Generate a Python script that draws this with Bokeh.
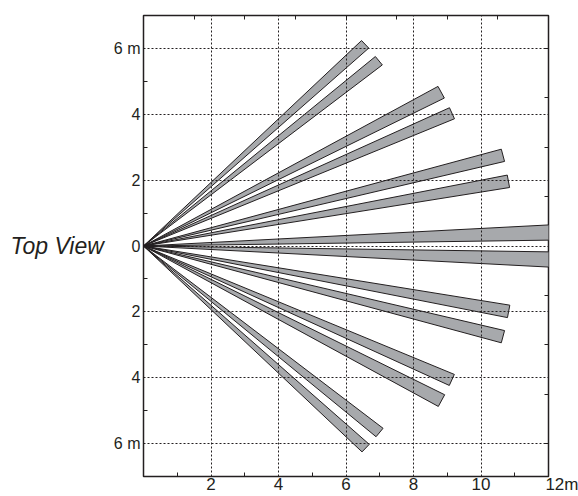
import math
from bokeh.plotting import figure
from bokeh.models import Range1d, FixedTicker, LinearAxis, ColumnDataSource
from bokeh.embed import file_html
from bokeh.resources import INLINE

# ---- data ----
beam_angle_deg = [43.0, 38.9, 27.9, 23.8, 14.5, 10.3, 1.95,
                  -1.95, -10.4, -14.5, -24.0, -28.0, -39.0, -43.0]
beam_length_m = [8.98, 8.96, 9.98, 9.99, 11.0, 10.99, 13.0,
                 13.0, 11.0, 11.0, 10.0, 10.0, 9.0, 9.0]
beam_halfwidth_deg = [1.0, 1.05, 1.15, 1.05, 1.0, 1.0, 1.1,
                      1.1, 1.0, 1.0, 1.05, 1.15, 1.05, 1.0]

x_label_ticks = [2, 4, 6, 8, 10, 12]
x_label_text = {2: "2", 4: "4", 6: "6", 8: "8", 10: "10",
                12: "\u00a0" * 6 + "12m"}
x_minor_ticks = [1, 3, 5, 7, 9, 11]
y_label_ticks = [-6, -4, -2, 0, 2, 4, 6]
y_label_text = {-6: "6 m", -4: "4", -2: "2", 0: "0", 2: "2", 4: "4", 6: "6 m"}
y_minor_ticks = [-5, -3, -1, 1, 3, 5]
top_ticks = [1.5, 3, 4.5, 6, 7.5, 9, 10.5]
right_ticks = [-6, -4.5, -3, -1.5, 1.5, 3, 4.5, 6]
side_title = "Top View"

INK = "#231f20"
FONT = "Liberation Sans"

# ---- beam polygons ----
xs, ys = [], []
for a, L, h in zip(beam_angle_deg, beam_length_m, beam_halfwidth_deg):
    t = math.radians(a)
    w = L * math.tan(math.radians(h))
    cx, cy = L * math.cos(t), L * math.sin(t)
    nx, ny = -math.sin(t), math.cos(t)
    xs.append([0.0, cx + w * nx, cx - w * nx])
    ys.append([0.0, cy + w * ny, cy - w * ny])
src = ColumnDataSource(dict(xs=xs, ys=ys))

p = figure(width=578, height=496, x_range=Range1d(0, 12), y_range=Range1d(-7, 7),
           output_backend="svg", toolbar_location=None,
           min_border_left=143, min_border_right=30, min_border_top=15,
           min_border_bottom=16)
p.background_fill_color = "white"
p.border_fill_color = "white"
p.outline_line_color = INK
p.outline_line_width = 1.5

p.patches("xs", "ys", source=src, fill_color="#a7a9ac", line_color=INK, line_width=1)

# bottom axis
xa = p.xaxis[0]
xa.ticker = FixedTicker(ticks=x_label_ticks, minor_ticks=x_minor_ticks)
xa.major_label_overrides = x_label_text
xa.major_tick_line_color = None
xa.minor_tick_in = 4
xa.minor_tick_out = 0
xa.minor_tick_line_color = INK
xa.axis_line_color = None
xa.major_label_text_font = FONT
xa.major_label_text_font_size = "17px"
xa.major_label_text_color = INK
xa.major_label_standoff = -8

# left axis
ya = p.yaxis[0]
ya.ticker = FixedTicker(ticks=y_label_ticks, minor_ticks=y_minor_ticks)
ya.major_label_overrides = y_label_text
ya.major_tick_line_color = None
ya.minor_tick_in = 4
ya.minor_tick_out = 0
ya.minor_tick_line_color = INK
ya.axis_line_color = None
ya.major_label_text_font = FONT
ya.major_label_text_font_size = "16px"
ya.major_label_text_color = INK
ya.major_label_standoff = -3
ya.axis_label = side_title
ya.axis_label_orientation = "horizontal"
ya.axis_label_text_font = FONT
ya.axis_label_text_font_size = "23px"
ya.axis_label_text_font_style = "italic"
ya.axis_label_text_color = INK
ya.axis_label_standoff = 7

# top and right tick-only axes (minor ticks only, so no labels at all)
ta = LinearAxis(ticker=FixedTicker(ticks=[], minor_ticks=top_ticks),
                minor_tick_in=4, minor_tick_out=0, minor_tick_line_color=INK,
                major_tick_line_color=None, axis_line_color=None,
                major_label_standoff=0)
p.add_layout(ta, "above")
ra = LinearAxis(ticker=FixedTicker(ticks=[], minor_ticks=right_ticks),
                minor_tick_in=4, minor_tick_out=0, minor_tick_line_color=INK,
                major_tick_line_color=None, axis_line_color=None,
                major_label_standoff=0)
p.add_layout(ra, "right")

# grid (dotted, drawn over the beams)
p.xgrid.ticker = FixedTicker(ticks=[2, 4, 6, 8, 10])
p.ygrid.ticker = FixedTicker(ticks=y_label_ticks)
for g in (p.xgrid[0], p.ygrid[0]):
    g.grid_line_color = INK
    g.grid_line_dash = "2 2"
    g.grid_line_width = 1
    g.level = "overlay"

open("out.html", "w").write(file_html(p, INLINE))
